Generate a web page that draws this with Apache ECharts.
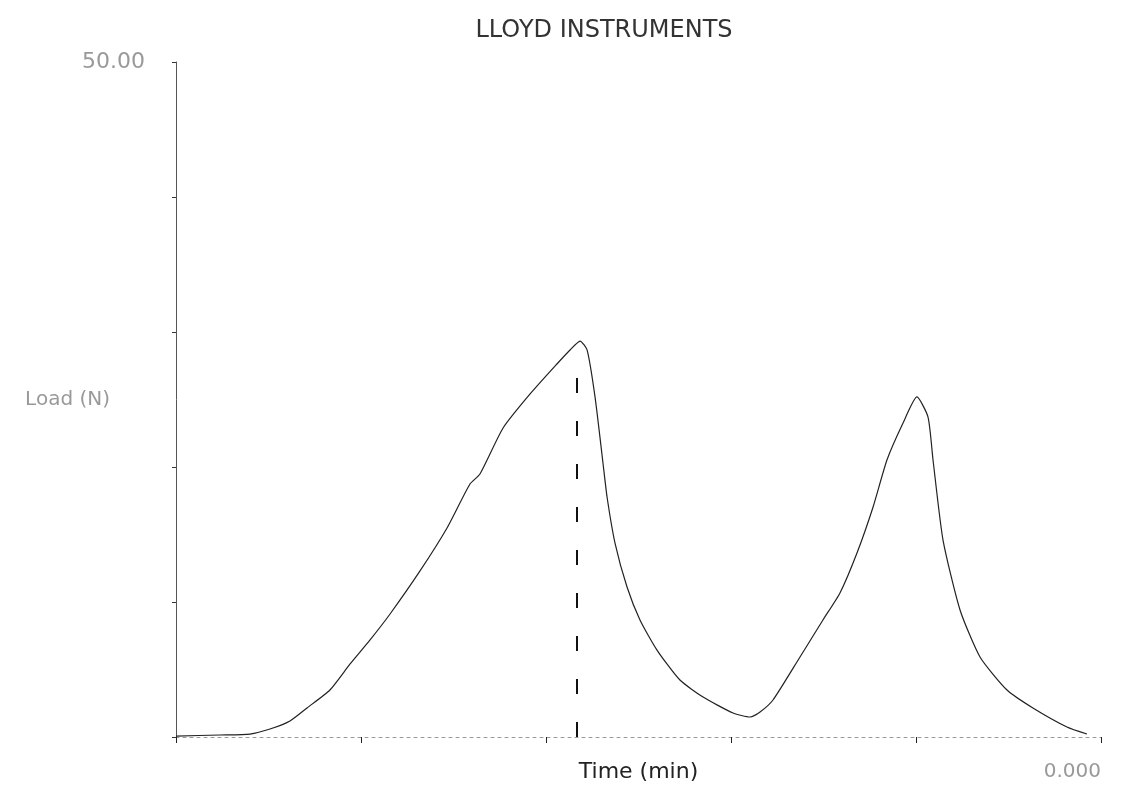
<!DOCTYPE html>
<html>
<head>
<meta charset="utf-8">
<script src="https://cdn.jsdelivr.net/npm/echarts@6/dist/echarts.min.js"></script>
<style>html,body{margin:0;padding:0;background:#fff}#c{width:1137px;height:786px}</style>
</head>
<body>
<div id="c"></div>
<script>
const titleText = 'LLOYD INSTRUMENTS';
const xName = 'Time (min)';
const yName = 'Load (N)';
const xMaxLabel = '0.000';
const yMaxLabel = '50.00';
const timeValues = [0,0.238,0.4,0.508,0.616,0.708,0.832,0.941,1.049,1.157,1.319,1.465,1.589,1.643,1.768,1.914,2.059,2.13,2.184,2.222,2.265,2.308,2.33,2.373,2.438,2.508,2.6,2.724,2.849,3.011,3.103,3.157,3.227,3.373,3.497,3.589,3.681,3.768,3.843,3.93,4.005,4.065,4.092,4.146,4.238,4.346,4.492,4.632,4.816,4.924];
const loadValues = [0.07,0.15,0.22,0.59,1.19,2.15,3.48,5.41,7.19,9.11,12.3,15.48,18.74,19.48,22.89,25.41,27.63,28.67,29.33,28.67,25.19,20.3,17.78,14.37,11.11,8.67,6.44,4.22,2.96,1.78,1.48,1.85,2.74,5.93,8.67,10.67,13.63,17.04,20.52,23.26,25.19,23.7,20.52,14.59,9.41,5.93,3.48,2.15,0.74,0.22];
const markerTime = [2.168];
const markerLoad = [0, 27.6];

const chart = echarts.init(document.getElementById('c'));
chart.setOption({
  animation: false,
  backgroundColor: '#fff',
  title: {
    text: titleText, left: 599, top: 14, textAlign: 'center',
    textStyle: {fontFamily: 'DejaVu Sans', fontWeight: 'normal', fontSize: 24, color: '#333'}
  },
  grid: {left: 176, top: 62, right: 36, bottom: 49, containLabel: false, outerBoundsMode: 'none'},
  xAxis: {
    type: 'value', min: 0, max: 5, interval: 1,
    name: xName, nameLocation: 'middle', nameGap: 24, nameMoveOverlap: false,
    nameTextStyle: {fontFamily: 'DejaVu Sans', fontSize: 22, color: '#222'},
    axisLine: {lineStyle: {color: '#999', type: [3, 4], width: 1}},
    axisTick: {show: true, length: 6, lineStyle: {color: '#222'}},
    splitLine: {show: false},
    axisLabel: {
      showMaxLabel: true, margin: 25, color: '#999', fontFamily: 'DejaVu Sans', fontSize: 20, align: 'right',
      formatter: v => v === 5 ? xMaxLabel : ''
    }
  },
  yAxis: {
    type: 'value', min: 0, max: 50, interval: 10,
    name: yName, nameLocation: 'middle', nameRotate: 0, nameGap: 66, nameMoveOverlap: false,
    nameTextStyle: {fontFamily: 'DejaVu Sans', fontSize: 20, color: '#999', align: 'right', padding: [0, 0, 12, 0]},
    axisLine: {show: true, lineStyle: {color: '#555', width: 1}},
    axisTick: {show: true, length: 4, lineStyle: {color: '#333'}},
    splitLine: {show: false},
    axisLabel: {
      showMaxLabel: true, margin: 31, color: '#999', fontFamily: 'DejaVu Sans', fontSize: 22,
      formatter: v => v === 50 ? yMaxLabel : ''
    }
  },
  series: [{
    type: 'line', showSymbol: false, smooth: 0.2,
    data: timeValues.map((t, i) => [t, loadValues[i]]),
    lineStyle: {color: '#222', width: 1.2},
    markLine: {
      silent: true, symbol: 'none', label: {show: false},
      lineStyle: {color: '#111', type: [15, 28], width: 2},
      data: [[{coord: [markerTime[0], markerLoad[0]]}, {coord: [markerTime[0], markerLoad[1]]}]]
    }
  }]
});
</script>
</body>
</html>
